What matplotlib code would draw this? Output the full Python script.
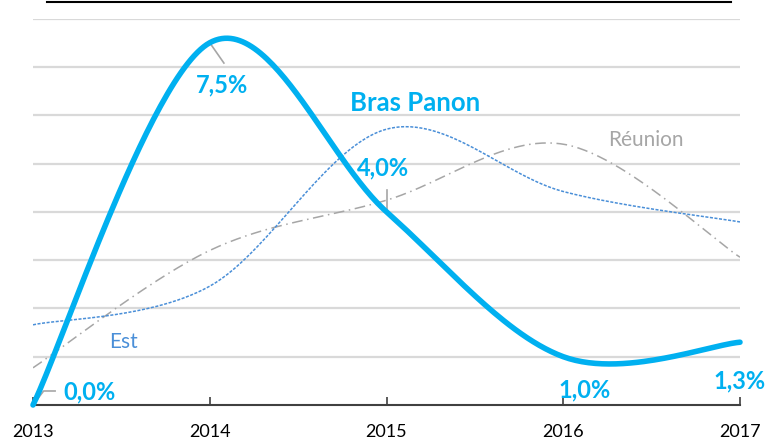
import numpy as np
import matplotlib
matplotlib.use("Agg")
import matplotlib.pyplot as plt
from matplotlib.lines import Line2D

plt.rcParams['font.family'] = ['Lato', 'DejaVu Sans']

years = [2013, 2014, 2015, 2016, 2017]
bras_panon = [0.0, 7.5, 4.0, 1.0, 1.3]
est = [1.66, 2.46, 5.71, 4.42, 3.79]
reunion = [0.77, 3.2, 4.24, 5.4, 3.06]
value_labels = ["0,0%", "7,5%", "4,0%", "1,0%", "1,3%"]

CYAN = "#00b0f0"
BLUE = "#4a8fd8"
GRAY = "#a6a6a6"
GRID = "#d9d9d9"


def smooth(xs, ys, n=60):
    """Catmull-Rom style cubic Bezier smoothing through every point."""
    xs = np.asarray(xs, float)
    ys = np.asarray(ys, float)
    px = np.concatenate([[xs[0]], xs, [xs[-1]]])
    py = np.concatenate([[ys[0]], ys, [ys[-1]]])
    out_x, out_y = [], []
    t = np.linspace(0, 1, n)
    for i in range(1, len(px) - 2):
        p0 = np.array([px[i], py[i]])
        p3 = np.array([px[i + 1], py[i + 1]])
        c1 = p0 + (np.array([px[i + 1], py[i + 1]]) - np.array([px[i - 1], py[i - 1]])) / 6
        c2 = p3 - (np.array([px[i + 2], py[i + 2]]) - np.array([px[i], py[i]])) / 6
        b = ((1 - t) ** 3)[:, None] * p0 + (3 * (1 - t) ** 2 * t)[:, None] * c1 \
            + (3 * (1 - t) * t ** 2)[:, None] * c2 + (t ** 3)[:, None] * p3
        out_x.extend(b[:, 0])
        out_y.extend(b[:, 1])
    return np.array(out_x), np.array(out_y)


fig = plt.figure(figsize=(7.69, 4.43), dpi=100)
ax = fig.add_axes([33 / 769, 1 - 405 / 443, (740 - 33) / 769, (405 - 18.6) / 443])
ax.set_xlim(2013, 2017)
ax.set_ylim(0, 8)

# horizontal gridlines
for g in range(1, 9):
    ax.axhline(g, color=GRID, lw=1.6, zorder=0)

for side in ["top", "right", "left"]:
    ax.spines[side].set_visible(False)
ax.spines["bottom"].set_color("#404040")
ax.spines["bottom"].set_linewidth(1.5)
ax.set_yticks([])
ax.set_xticks(years)
ax.set_xticklabels([str(y) for y in years], fontsize=13, color="#000000")
ax.tick_params(axis="x", direction="in", length=6, width=1.2, color="#404040", pad=14)

# series
x, y = smooth(years, reunion)
ax.plot(x, y, color=GRAY, lw=1.1, dashes=(7, 3, 1, 3), zorder=2)
x, y = smooth(years, est)
ax.plot(x, y, color=BLUE, lw=1.1, dashes=(2, 1), zorder=2)
x, y = smooth(years, bras_panon)
ax.plot(x, y, color=CYAN, lw=4.0, solid_capstyle="round", zorder=4, clip_on=False)

# series names
ax.text(2015.16, 6.26, "Bras Panon", color=CYAN, fontsize=18.5, fontweight="bold",
        ha="center", va="center")
ax.text(2016.47, 5.49, "Réunion", color=GRAY, fontsize=15, ha="center", va="center")
ax.text(2013.51, 1.31, "Est", color=BLUE, fontsize=15, ha="center", va="center")

# value labels with leader lines
label_pos = [(2013.32, 0.27), (2014.07, 6.63), (2014.98, 4.90), (2016.12, 0.31), (2017.0, 0.50)]
for lab, (lx, ly) in zip(value_labels, label_pos):
    ax.text(lx, ly, lab, color=CYAN, fontsize=17, fontweight="bold",
            ha="center", va="center", zorder=5, clip_on=False)

lead = dict(color=GRAY, lw=1.2, zorder=3)
ax.plot([2013.0, 2013.06, 2013.125], [bras_panon[0], 0.29, 0.29], **lead)
ax.plot([2014.0, 2014.08], [bras_panon[1], 7.08], **lead)
ax.plot([2015.0, 2015.0], [bras_panon[2] + 0.05, 4.45], **lead)

# rule across the top of the figure
fig.add_artist(Line2D([47 / 769, 731 / 769], [1 - 1.5 / 443, 1 - 1.5 / 443],
                      color="black", lw=1.5))

fig.savefig("out.png", dpi=100)
